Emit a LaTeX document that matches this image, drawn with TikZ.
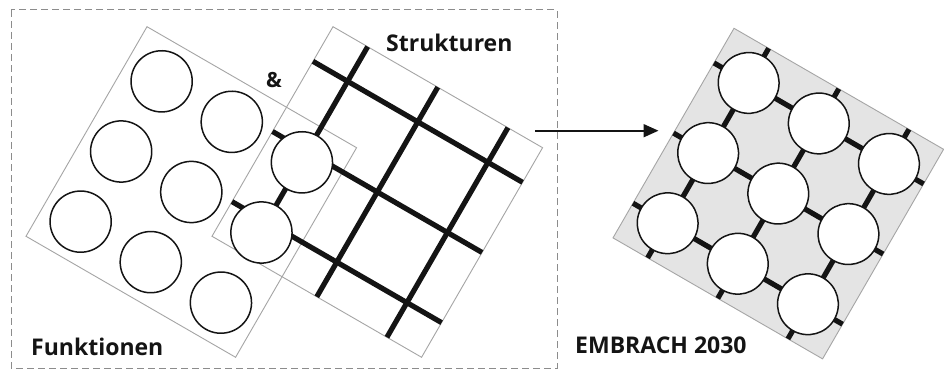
\documentclass[tikz,border=0pt]{standalone}
\usepackage{fontspec}
\setmainfont{Open Sans}
\usetikzlibrary{arrows.meta}
\definecolor{sqgrey}{RGB}{165,165,165}
\definecolor{dashgrey}{RGB}{140,140,140}
\definecolor{embfill}{RGB}{228,228,228}
\definecolor{ink}{RGB}{20,20,20}
\begin{document}
\begin{tikzpicture}[x=1pt,y=-1pt,
  dashbox/.style={draw=dashgrey,line width=1pt,dash pattern=on 7pt off 4pt},
  sqborder/.style={draw=sqgrey,line width=0.9pt},
  gridline/.style={draw=ink,line width=5.2pt},
  ring/.style={draw=ink,fill=white,line width=1.5pt},
  lbl/.style={font=\bfseries\fontsize{23}{27}\selectfont,text=ink,inner sep=0pt,anchor=base west},
  arrowline/.style={draw=ink,line width=1.8pt,-{Triangle[length=15pt,width=13pt]}},
  rotframe/.style={x={(0.866pt,-0.5pt)},y={(-0.5pt,-0.866pt)}}]
\useasboundingbox (0,0) rectangle (944,369);
\fill[white] (0,0) rectangle (944,369);
% dashed frame
\draw[dashbox] (11,10) rectangle (557,368);
% Funktionen square border
\begin{scope}[shift={(147pt,-26.7pt)},rotframe]
  \draw[sqborder] (0,0) -- (242,0) -- (242,242) -- (0,242) -- cycle;
\end{scope}
% Strukturen square
\begin{scope}[shift={(333pt,-26.7pt)},rotframe]
  \draw[sqborder] (0,0) -- (242,0) -- (242,242) -- (0,242) -- cycle;
  \foreach \p in {40,121,202}{
    \draw[gridline] (\p,0) -- (\p,242);
    \draw[gridline] (0,\p) -- (242,\p);
  }
\end{scope}
% Funktionen circles
\begin{scope}[shift={(147pt,-26.7pt)},rotframe]
  \foreach \u in {40,121,202}{
    \foreach \v in {40,121,202}{
      \draw[ring] (\u,\v) circle (30.6);
    }
  }
\end{scope}
% EMBRACH 2030 square
\begin{scope}[shift={(734pt,-28.3pt)},rotframe]
  \filldraw[sqborder,fill=embfill] (0,0) -- (242,0) -- (242,242) -- (0,242) -- cycle;
  \foreach \p in {40,121,202}{
    \draw[gridline] (\p,0) -- (\p,242);
    \draw[gridline] (0,\p) -- (242,\p);
  }
  \foreach \u in {40,121,202}{
    \foreach \v in {40,121,202}{
      \draw[ring] (\u,\v) circle (30.4);
    }
  }
\end{scope}
% arrow
\coordinate (arrowstart) at (535,130.7);
\coordinate (arrowend) at (658.5,130.7);
\draw[arrowline] (arrowstart) -- (arrowend);
% labels
\node[lbl] (struk) at (386,51.7) {Strukturen};
\node[lbl,font=\bfseries\fontsize{21}{25}\selectfont] (amp) at (266,87.3) {\&};
\node[lbl] (funk) at (31,355) {Funktionen};
\node[lbl] (emb) at (575,353.3) {EMBRACH 2030};
\end{tikzpicture}
\end{document}
